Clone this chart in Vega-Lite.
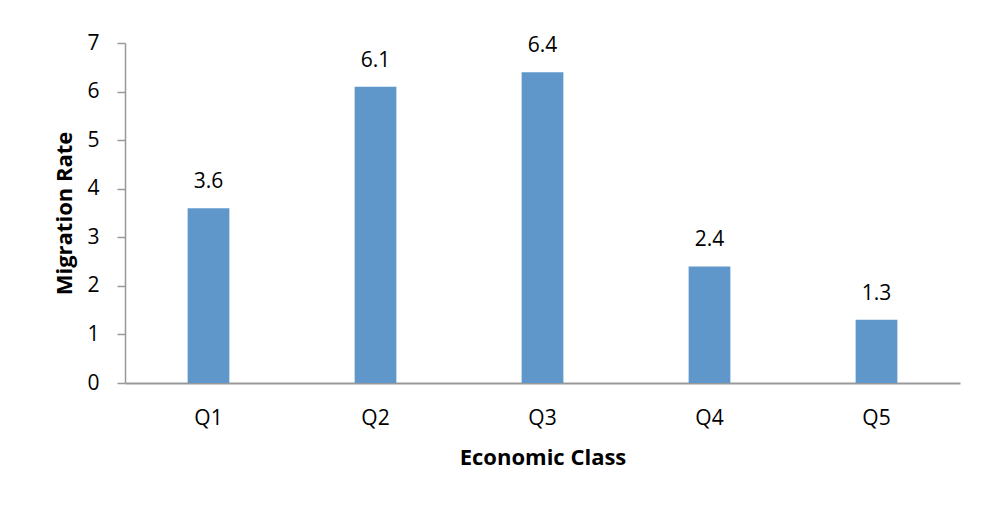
{
  "$schema": "https://vega.github.io/schema/vega-lite/v6.json",
  "width": 835,
  "height": 340,
  "autosize": {"type": "none"},
  "padding": {"left": 125, "top": 43, "right": 27, "bottom": 125},
  "background": "white",
  "config": {
    "view": {"stroke": null},
    "font": "Open Sans",
    "axis": {"grid": false, "labelColor": "#000", "titleColor": "#000", "labelFont": "Open Sans", "titleFont": "Open Sans"}
  },
  "data": {"values": [
    {"cls": "Q1", "rate": 3.6},
    {"cls": "Q2", "rate": 6.1},
    {"cls": "Q3", "rate": 6.4},
    {"cls": "Q4", "rate": 2.4},
    {"cls": "Q5", "rate": 1.3}
  ]},
  "encoding": {
    "x": {"field": "cls", "type": "nominal", "title": "Economic Class",
      "scale": {"paddingInner": 0.75, "paddingOuter": 0.375},
      "axis": {"labelAngle": 0, "ticks": false, "tickSize": 0, "labelPadding": 24, "labelFontSize": 21, "titleFontSize": 22, "titleFontWeight": "bold", "titlePadding": 19, "domainColor": "#999999", "domainWidth": 2}},
    "y": {"field": "rate", "type": "quantitative", "title": "Migration Rate",
      "scale": {"domain": [0, 7]},
      "axis": {"values": [0,1,2,3,4,5,6,7], "tickSize": 8, "tickColor": "#999999", "tickWidth": 1.5, "domainColor": "#999999", "domainWidth": 1.5, "labelPadding": 18, "labelFontSize": 21, "titleFontSize": 22, "titleFontWeight": "bold", "titlePadding": 10}}
  },
  "layer": [
    {"mark": {"type": "bar", "color": "#6097CA"}},
    {"mark": {"type": "text", "baseline": "middle", "dy": -26, "fontSize": 21, "color": "#000"},
     "encoding": {"text": {"field": "rate", "type": "quantitative", "format": ".1f"}}}
  ]
}
